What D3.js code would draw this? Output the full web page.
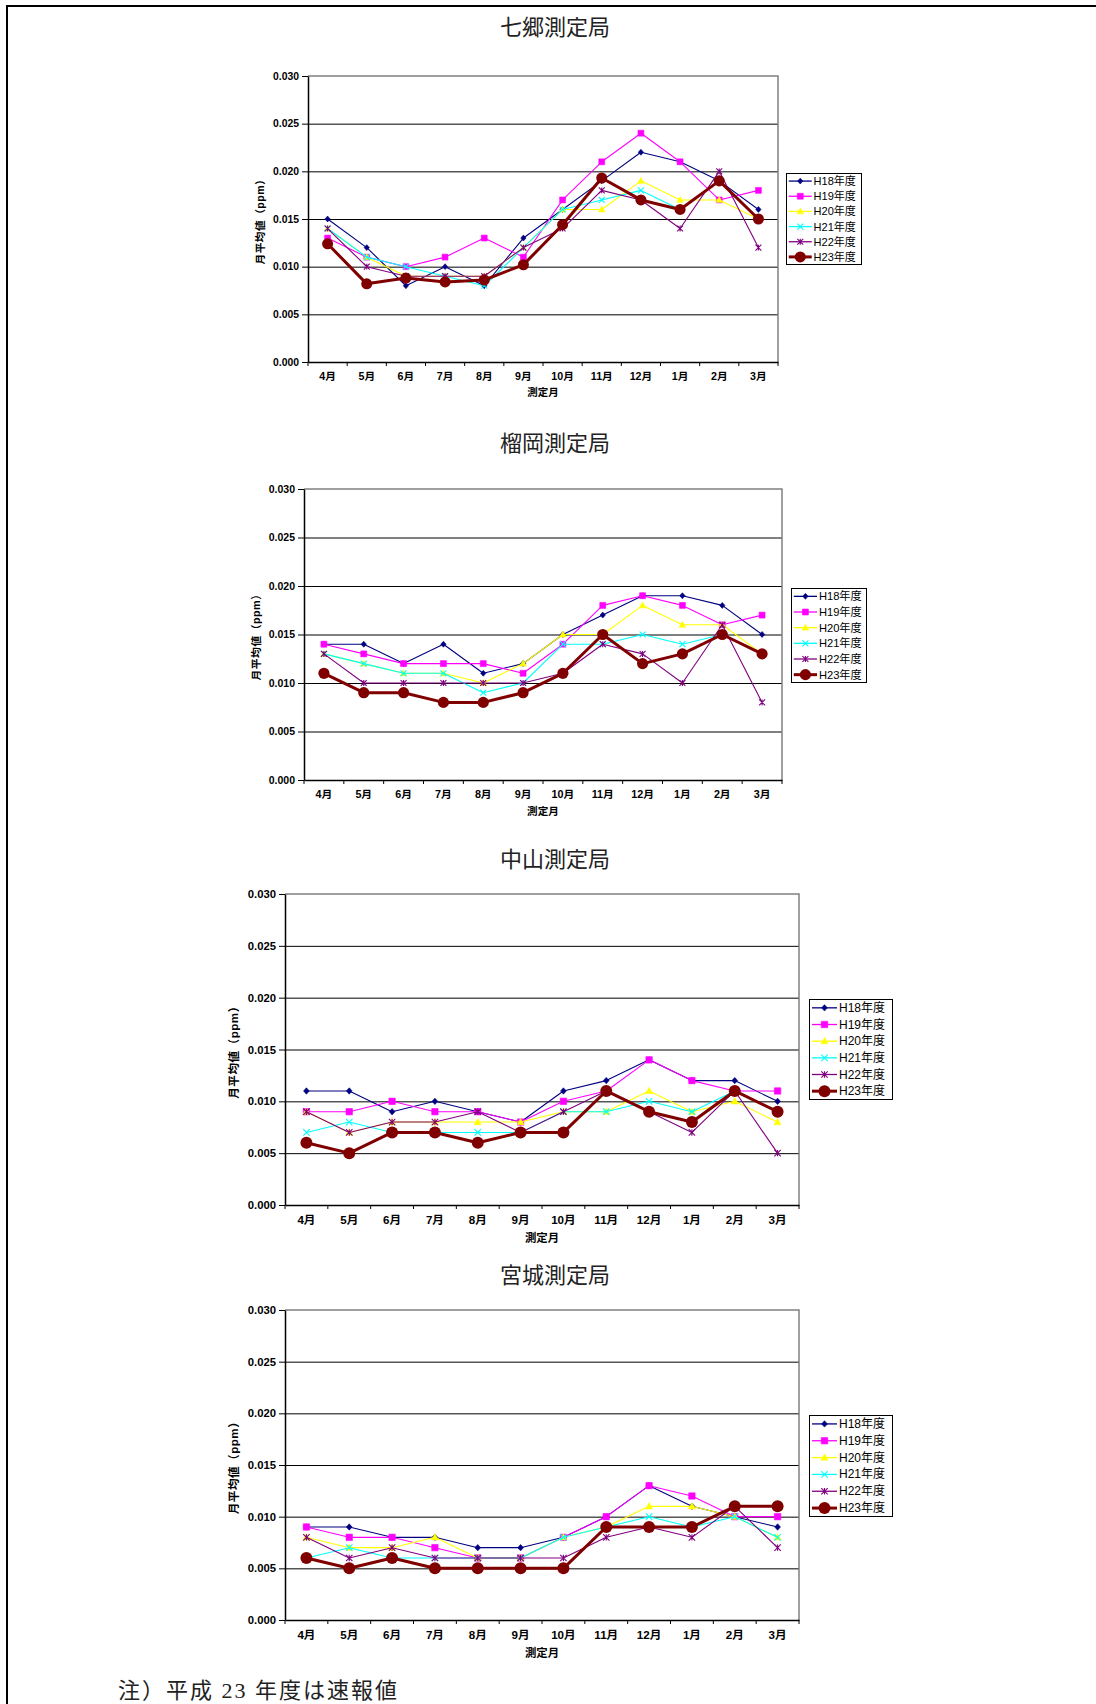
<!DOCTYPE html>
<html>
<head>
<meta charset="utf-8">
<script src="https://cdn.jsdelivr.net/npm/d3@7"></script>
<style>
  body { margin: 0; background: #fff; }
  svg { display: block; }
  text { font-family: "Liberation Sans", "Noto Sans CJK JP", sans-serif; }
</style>
</head>
<body>
<svg id="page" width="1096" height="1704"></svg>
<script>
// ---- data ---------------------------------------------------------------
const months = ["4月", "5月", "6月", "7月", "8月", "9月", "10月", "11月", "12月", "1月", "2月", "3月"];
const seriesNames = ["H18年度", "H19年度", "H20年度", "H21年度", "H22年度", "H23年度"];
const yTicks = [0, 0.005, 0.010, 0.015, 0.020, 0.025, 0.030];
const stationNames = ["七郷測定局", "榴岡測定局", "中山測定局", "宮城測定局"];
const noteText = "注）平成 23 年度は速報値";

// monthly means (ppm), one row per fiscal year H18..H23
const nanagoValues = [
  [0.015, 0.012, 0.008, 0.010, 0.008, 0.013, 0.016, 0.019, 0.022, 0.021, 0.019, 0.016],
  [0.013, 0.011, 0.010, 0.011, 0.013, 0.011, 0.017, 0.021, 0.024, 0.021, 0.017, 0.018],
  [0.014, 0.011, 0.009, 0.009, 0.009, 0.012, 0.016, 0.016, 0.019, 0.017, 0.017, 0.015],
  [0.014, 0.011, 0.010, 0.009, 0.008, 0.012, 0.016, 0.017, 0.018, 0.016, 0.019, 0.015],
  [0.014, 0.010, 0.009, 0.009, 0.009, 0.012, 0.014, 0.018, 0.017, 0.014, 0.020, 0.012],
  [0.0124, 0.0082, 0.0088, 0.0084, 0.0086, 0.0102, 0.0144, 0.0193, 0.017, 0.016, 0.019, 0.015]
];
const tsutsujigaokaValues = [
  [0.014, 0.014, 0.012, 0.014, 0.011, 0.012, 0.015, 0.017, 0.019, 0.019, 0.018, 0.015],
  [0.014, 0.013, 0.012, 0.012, 0.012, 0.011, 0.014, 0.018, 0.019, 0.018, 0.016, 0.017],
  [0.013, 0.012, 0.011, 0.011, 0.010, 0.012, 0.015, 0.015, 0.018, 0.016, 0.016, 0.013],
  [0.013, 0.012, 0.011, 0.011, 0.009, 0.010, 0.014, 0.014, 0.015, 0.014, 0.015, 0.013],
  [0.013, 0.010, 0.010, 0.010, 0.010, 0.010, 0.011, 0.014, 0.013, 0.010, 0.016, 0.008],
  [0.011, 0.009, 0.009, 0.008, 0.008, 0.009, 0.011, 0.015, 0.012, 0.013, 0.015, 0.013]
];
const nakayamaValues = [
  [0.011, 0.011, 0.009, 0.010, 0.009, 0.008, 0.011, 0.012, 0.014, 0.012, 0.012, 0.010],
  [0.009, 0.009, 0.010, 0.009, 0.009, 0.008, 0.010, 0.011, 0.014, 0.012, 0.011, 0.011],
  [0.009, 0.007, 0.008, 0.008, 0.008, 0.008, 0.009, 0.009, 0.011, 0.009, 0.010, 0.008],
  [0.007, 0.008, 0.007, 0.007, 0.007, 0.007, 0.009, 0.009, 0.010, 0.009, 0.011, 0.009],
  [0.009, 0.007, 0.008, 0.008, 0.009, 0.007, 0.009, 0.011, 0.009, 0.007, 0.011, 0.005],
  [0.006, 0.005, 0.007, 0.007, 0.006, 0.007, 0.007, 0.011, 0.009, 0.008, 0.011, 0.009]
];
const miyagiValues = [
  [0.009, 0.009, 0.008, 0.008, 0.007, 0.007, 0.008, 0.010, 0.013, 0.011, 0.010, 0.009],
  [0.009, 0.008, 0.008, 0.007, 0.006, 0.006, 0.008, 0.010, 0.013, 0.012, 0.010, 0.010],
  [0.008, 0.007, 0.007, 0.008, 0.006, 0.006, 0.008, 0.009, 0.011, 0.011, 0.010, 0.008],
  [0.006, 0.007, 0.006, 0.006, 0.006, 0.006, 0.008, 0.009, 0.010, 0.009, 0.010, 0.008],
  [0.008, 0.006, 0.007, 0.006, 0.006, 0.006, 0.006, 0.008, 0.009, 0.008, 0.011, 0.007],
  [0.006, 0.005, 0.006, 0.005, 0.005, 0.005, 0.005, 0.009, 0.009, 0.009, 0.011, 0.011]
];
const stationValues = [nanagoValues, tsutsujigaokaValues, nakayamaValues, miyagiValues];

// ---- styling ------------------------------------------------------------
const seriesColors = ["#000080", "#FF00FF", "#FFFF00", "#00FFFF", "#800080", "#800000"];
const seriesMarkers = ["diamond", "square", "triangle", "times", "asterisk", "circle"];

// panel geometry: plot rectangle, legend box, text scale
const panels = [
  { titleY: 25,   plot: { x: 308, y: 76,   w: 470, h: 286 }, legend: { x: 786, y: 173,  w: 75, h: 91 },  k: 0.92 },
  { titleY: 441,  plot: { x: 304, y: 489,  w: 478, h: 291 }, legend: { x: 791, y: 588,  w: 75, h: 94 },  k: 0.93 },
  { titleY: 857,  plot: { x: 285, y: 894,  w: 514, h: 311 }, legend: { x: 809, y: 999,  w: 83, h: 100 }, k: 1.0 },
  { titleY: 1273, plot: { x: 285, y: 1310, w: 514, h: 310 }, legend: { x: 809, y: 1415, w: 83, h: 101 }, k: 1.0 }
];

const svg = d3.select("#page");

// page frame
svg.append("line").attr("x1", 6).attr("x2", 1096).attr("y1", 6).attr("y2", 6)
  .attr("stroke", "#000").attr("stroke-width", 2);
svg.append("line").attr("x1", 7).attr("x2", 7).attr("y1", 5).attr("y2", 1704)
  .attr("stroke", "#000").attr("stroke-width", 2);

function markerPath(type, s) {
  switch (type) {
    case "diamond":  return `M0,${-s}L${s * 0.9},0L0,${s}L${-s * 0.9},0Z`;
    case "square":   return `M${-s},${-s}H${s}V${s}H${-s}Z`;
    case "triangle": return `M0,${-s * 1.1}L${s * 1.05},${s * 0.8}L${-s * 1.05},${s * 0.8}Z`;
    case "times":    return `M${-s},${-s}L${s},${s}M${s},${-s}L${-s},${s}`;
    case "asterisk": return `M${-s},${-s}L${s},${s}M${s},${-s}L${-s},${s}M0,${-s}V${s}`;
    default:         return "";
  }
}

function drawMarker(g, type, color, cx, cy, k) {
  if (type === "circle") {
    g.append("circle").attr("cx", cx).attr("cy", cy).attr("r", 6 * k).attr("fill", color);
    return;
  }
  const size = { diamond: 3.2, square: 3.2, triangle: 3.3, times: 3.2, asterisk: 3.2 }[type] * k;
  const stroked = type === "times" || type === "asterisk";
  g.append("path")
    .attr("transform", `translate(${cx},${cy})`)
    .attr("d", markerPath(type, size))
    .attr("fill", stroked ? "none" : color)
    .attr("stroke", color)
    .attr("stroke-width", stroked ? 1.1 : 0.6);
}

function drawPanel(panel, title, values) {
  const { plot: p, legend: lg, k } = panel;
  const g = svg.append("g");

  const x = d3.scaleBand().domain(months).range([p.x, p.x + p.w]).padding(0);
  const y = d3.scaleLinear().domain([0, 0.03]).range([p.y + p.h, p.y]);
  const cx = m => x(m) + x.bandwidth() / 2;

  // title
  g.append("text")
    .attr("x", 555).attr("y", panel.titleY)
    .attr("text-anchor", "middle").attr("dominant-baseline", "central")
    .style("font-family", "'Noto Sans CJK JP', sans-serif")
    .style("font-size", "22px").attr("fill", "#222")
    .text(title);

  // horizontal gridlines
  g.append("g")
    .attr("transform", `translate(${p.x},0)`)
    .call(d3.axisLeft(y).tickValues(yTicks.slice(1, -1)).tickSize(-p.w).tickFormat(""))
    .call(a => a.select(".domain").remove())
    .call(a => a.selectAll(".tick line").attr("stroke", "#000").attr("stroke-width", 1));

  // plot frame: grey top and right edges
  g.append("path")
    .attr("d", `M${p.x},${y(0.03)}H${p.x + p.w}V${y(0)}`)
    .attr("fill", "none").attr("stroke", "#808080").attr("stroke-width", 1.5);

  // y axis with outward ticks and labels
  g.append("g")
    .attr("transform", `translate(${p.x},0)`)
    .call(d3.axisLeft(y).tickValues(yTicks).tickFormat(d3.format(".3f"))
      .tickSizeInner(6).tickSizeOuter(0).tickPadding(3))
    .call(a => a.select(".domain").attr("stroke", "#000").attr("stroke-width", 1.5))
    .call(a => a.selectAll(".tick line").attr("stroke", "#000"))
    .call(a => a.selectAll(".tick text")
      .style("font-size", `${11.3 * k}px`).style("font-weight", "bold").attr("fill", "#000"));

  // x axis: labels centred in each month, ticks on month boundaries
  const xa = g.append("g").attr("transform", `translate(0,${p.y + p.h})`)
    .call(d3.axisBottom(x).tickSize(0).tickPadding(11 * k))
    .call(a => a.select(".domain").attr("stroke", "#000").attr("stroke-width", 1.5))
    .call(a => a.selectAll(".tick text")
      .style("font-size", `${11.6 * k}px`).style("font-weight", "bold").attr("fill", "#000"));
  const bounds = months.map(m => x(m)).concat([x.range()[1]]);
  xa.selectAll("line.bound").data(bounds).enter().append("line")
    .attr("class", "bound")
    .attr("x1", d => d).attr("x2", d => d).attr("y1", 0).attr("y2", 4)
    .attr("stroke", "#000");

  // axis titles
  g.append("text")
    .attr("x", (p.x + p.x + p.w) / 2).attr("y", p.y + p.h + 33 * k)
    .attr("text-anchor", "middle").attr("dominant-baseline", "central")
    .style("font-size", `${11.4 * k}px`).style("font-weight", "bold")
    .text("測定月");
  g.append("text")
    .attr("transform", `translate(${p.x - 52 * k},${p.y + p.h / 2}) rotate(-90)`)
    .attr("text-anchor", "middle").attr("dominant-baseline", "central")
    .style("font-size", `${11.6 * k}px`).style("font-weight", "bold")
    .style("letter-spacing", "0.5px")
    .text("月平均値（ppm）");

  // series lines and markers, H18 first so H23 sits on top
  const line = d3.line().x((v, i) => cx(months[i])).y(v => y(v));
  values.forEach((row, si) => {
    const sg = g.append("g");
    const isLast = si === values.length - 1;
    sg.append("path")
      .attr("d", line(row))
      .attr("fill", "none")
      .attr("stroke", seriesColors[si])
      .attr("stroke-width", isLast ? 3 : 1.1)
      .attr("stroke-linejoin", "round");
    row.forEach((v, i) => drawMarker(sg, seriesMarkers[si], seriesColors[si], cx(months[i]), y(v), k));
  });

  // legend
  const lgG = g.append("g");
  lgG.append("rect")
    .attr("x", lg.x + 0.5).attr("y", lg.y + 0.5).attr("width", lg.w).attr("height", lg.h)
    .attr("fill", "#fff").attr("stroke", "#000").attr("stroke-width", 1);
  const rowH = lg.h / seriesNames.length;
  seriesNames.forEach((name, si) => {
    const ry = lg.y + rowH * (si + 0.5) + 0.5;
    const x0 = lg.x + 3 * k, x1 = lg.x + 28 * k;
    lgG.append("line").attr("x1", x0).attr("x2", x1).attr("y1", ry).attr("y2", ry)
      .attr("stroke", seriesColors[si]).attr("stroke-width", si === 5 ? 3 : 1.3);
    drawMarker(lgG, seriesMarkers[si], seriesColors[si], (x0 + x1) / 2, ry, k);
    lgG.append("text")
      .attr("x", lg.x + 30 * k).attr("y", ry)
      .attr("dominant-baseline", "central")
      .style("font-size", `${12 * k}px`).attr("fill", "#000")
      .text(name);
  });
}

panels.forEach((panel, i) => drawPanel(panel, stationNames[i], stationValues[i]));

// footnote
svg.append("text")
  .attr("x", 118).attr("y", 1690)
  .attr("dominant-baseline", "central")
  .style("font-family", "'Liberation Serif', 'Noto Sans CJK JP', serif")
  .style("font-size", "22px").style("letter-spacing", "2px").attr("fill", "#222")
  .text(noteText);
</script>
</body>
</html>
